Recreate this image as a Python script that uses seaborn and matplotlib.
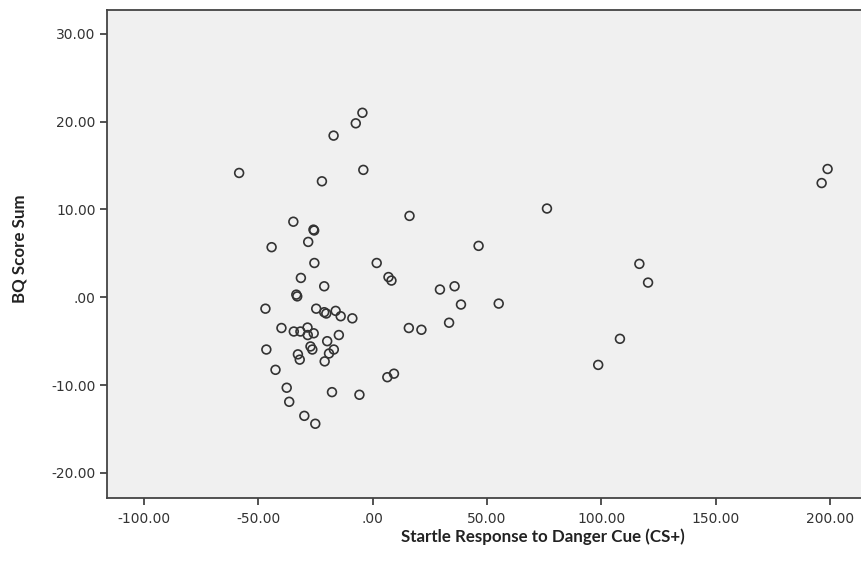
import pandas as pd
import matplotlib
matplotlib.use('Agg')
import matplotlib.pyplot as plt
from matplotlib.ticker import FuncFormatter
import seaborn as sns

# Values
startle = [-4.5, -7.4, -17.1, -58.4, -4.1, -22.2, -34.7, -25.9, -25.6, -28.2,
           -44.2, -25.5, 1.75, 6.9, 8.2, -31.4, -21.2, -33.4, -33.0, -46.9,
           -24.7, -21.2, -20.3, -16.2, -14.0, -8.9, -39.9, -34.5, -31.6, -28.5,
           -28.4, -25.8, -14.8, -19.9, -27.2, -26.4, -46.5, -17.0, -19.1, -32.7,
           -31.9, -21.0, -42.5, 6.4, 9.3, -37.6, -17.8, -5.8, -36.5, -29.9,
           -25.1, 16.1, 46.3, 29.4, 35.8, 38.6, 55.1, 15.8, 21.3, 33.4,
           76.2, 198.9, 196.3, 116.6, 120.4, 108.1, 98.6]
bq_score = [21.0, 19.8, 18.4, 14.15, 14.5, 13.2, 8.6, 7.7, 7.6, 6.3,
            5.7, 3.9, 3.9, 2.3, 1.9, 2.2, 1.25, 0.3, 0.1, -1.3,
            -1.3, -1.7, -1.85, -1.55, -2.16, -2.4, -3.5, -3.9, -3.9, -3.45,
            -4.3, -4.1, -4.3, -5.0, -5.6, -5.95, -5.95, -5.95, -6.4, -6.5,
            -7.1, -7.3, -8.26, -9.1, -8.7, -10.3, -10.8, -11.1, -11.9, -13.5,
            -14.4, 9.26, 5.85, 0.88, 1.25, -0.83, -0.72, -3.5, -3.7, -2.9,
            10.1, 14.6, 13.0, 3.8, 1.67, -4.73, -7.7]
x_ticks = [-100, -50, 0, 50, 100, 150, 200]
y_ticks = [-20, -10, 0, 10, 20, 30]

df = pd.DataFrame({'Startle': startle, 'BQ': bq_score})

sns.set_style('ticks')
plt.rcParams['font.family'] = ['DejaVu Sans']

fig = plt.figure(figsize=(8.62, 5.62), dpi=100)
ax = fig.add_axes([0.1238, 0.1139, 0.8782, 0.8683])
ax.set_facecolor('#f0f0f0')

sns.scatterplot(data=df, x='Startle', y='BQ', ax=ax, s=40,
                facecolor='none', edgecolor='#333333', linewidth=1.2)

ax.set_xlim(-116.3, 214.7)
ax.set_ylim(-22.85, 32.7)
ax.set_xticks(x_ticks)
ax.set_yticks(y_ticks)


def spss_fmt(v, pos):
    s = f'{v:.2f}'
    return '.00' if s in ('0.00', '-0.00') else s


ax.xaxis.set_major_formatter(FuncFormatter(spss_fmt))
ax.yaxis.set_major_formatter(FuncFormatter(spss_fmt))

for side in ['left', 'bottom', 'top']:
    ax.spines[side].set_color('#444444')
    ax.spines[side].set_linewidth(1.3)
ax.spines['right'].set_visible(False)
ax.tick_params(axis='both', direction='out', length=5, width=1.3,
               color='#444444', labelsize=10, labelcolor='#333333')
ax.tick_params(axis='x', pad=5)
ax.tick_params(axis='y', pad=3)

# the source chart is cropped on the right, so the x label sits right of centre
ax.set_xlabel('Startle Response to Danger Cue (CS+)', fontsize=12.2,
              fontweight='bold', color='#222222', family='Lato')
ax.set_ylabel('BQ Score Sum', fontsize=12.2, fontweight='bold',
              color='#222222', family='Lato')
ax.xaxis.label.set_va('center')
ax.yaxis.label.set_va('center')
ax.xaxis.set_label_coords(0.576, -0.08)
ax.yaxis.set_label_coords(-0.115, 0.51)

fig.savefig('out.png', dpi=100)
